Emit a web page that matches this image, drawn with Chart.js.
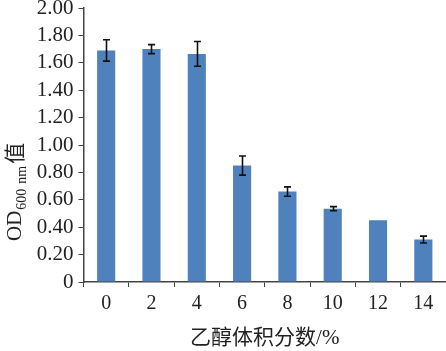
<!DOCTYPE html>
<html>
<head>
<meta charset="utf-8">
<script src="https://cdn.jsdelivr.net/npm/chart.js@4/dist/chart.umd.min.js"></script>
<style>
  html, body { margin: 0; padding: 0; background: #fff; overflow: hidden; }
</style>
</head>
<body>
<canvas id="odChart" width="446" height="351"></canvas>
<script>
// ethanol volume fraction (%)
var ethanolLabels = ['0', '2', '4', '6', '8', '10', '12', '14'];
// OD600 values
var odValues = [1.69, 1.70, 1.665, 0.85, 0.66, 0.535, 0.45, 0.31];
// error bar half lengths (0 = none drawn)
var odErrors = [0.078, 0.033, 0.09, 0.07, 0.034, 0.015, 0, 0.025];

var yTicksMax = 2.0;
var yTicksStep = 0.2;

var serif = '"Liberation Serif", "Noto Sans CJK SC", serif';

// error bars, drawn through the y scale
var errorBarPlugin = {
  id: 'errorBars',
  afterDatasetsDraw: function(chart) {
    var ctx = chart.ctx;
    var yScale = chart.scales.y;
    var meta = chart.getDatasetMeta(0);
    ctx.save();
    ctx.strokeStyle = '#111';
    ctx.lineWidth = 1.6;
    meta.data.forEach(function(bar, i) {
      var e = odErrors[i];
      if (!e) return;
      var top = yScale.getPixelForValue(odValues[i] + e);
      var bot = yScale.getPixelForValue(odValues[i] - e);
      var x = Math.round(bar.x) + 0.5;
      ctx.beginPath();
      ctx.moveTo(x, top); ctx.lineTo(x, bot);
      ctx.moveTo(x - 3.5, top); ctx.lineTo(x + 3.5, top);
      ctx.moveTo(x - 3.5, bot); ctx.lineTo(x + 3.5, bot);
      ctx.stroke();
    });
    ctx.restore();
  }
};

// rotated y title with subscript: OD600 nm值
var yTitlePlugin = {
  id: 'yTitle',
  afterDraw: function(chart) {
    var ctx = chart.ctx;
    ctx.save();
    ctx.translate(21, 241);
    ctx.rotate(-Math.PI / 2);
    ctx.fillStyle = '#222';
    ctx.textBaseline = 'alphabetic';
    ctx.textAlign = 'left';
    var x = 0;
    ctx.font = '21px ' + serif;
    ctx.fillText('OD', x, 0);
    x += ctx.measureText('OD').width + 1;
    ctx.font = '14px ' + serif;
    ctx.fillText('600', x, 5);
    x += ctx.measureText('600').width + 5;
    ctx.fillText('nm', x, 5);
    x += ctx.measureText('nm').width + 2;
    ctx.font = '21px "Noto Sans CJK SC", serif';
    ctx.fillText('值', x, 1);
    ctx.restore();
  }
};

new Chart(document.getElementById('odChart'), {
  type: 'bar',
  data: {
    labels: ethanolLabels,
    datasets: [{
      data: odValues,
      backgroundColor: '#4F81BD',
      borderWidth: 0,
      barPercentage: 0.4,
      categoryPercentage: 1.0
    }]
  },
  options: {
    responsive: false,
    animation: false,
    devicePixelRatio: 1,
    layout: { padding: { top: 8, right: 0, left: 0, bottom: 0 } },
    plugins: {
      legend: { display: false },
      tooltip: { enabled: false }
    },
    scales: {
      x: {
        grid: {
          offset: true,
          drawOnChartArea: false,
          tickLength: 5,
          color: '#444'
        },
        border: { color: '#444', width: 1.5 },
        ticks: {
          color: '#222',
          padding: 5,
          font: { family: serif, size: 20 }
        },
        title: {
          display: true,
          text: '乙醇体积分数/%',
          color: '#222',
          padding: { top: 0, bottom: 0 },
          font: { family: serif, size: 21 }
        },
        afterFit: function(scale) { scale.height = 69; scale.paddingLeft = 0; scale.paddingRight = 0; }
      },
      y: {
        min: 0,
        max: yTicksMax,
        grid: {
          drawOnChartArea: false,
          tickLength: 5,
          color: '#444'
        },
        border: { color: '#444', width: 1.5 },
        ticks: {
          stepSize: yTicksStep,
          autoSkip: false,
          color: '#222',
          padding: 5,
          font: { family: serif, size: 21 },
          callback: function(v) { return v === 0 ? '0' : v.toFixed(2); }
        },
        afterFit: function(scale) { scale.width = 83.5; scale.paddingTop = 0; scale.paddingBottom = 0; }
      }
    }
  },
  plugins: [errorBarPlugin, yTitlePlugin]
});
</script>
</body>
</html>
